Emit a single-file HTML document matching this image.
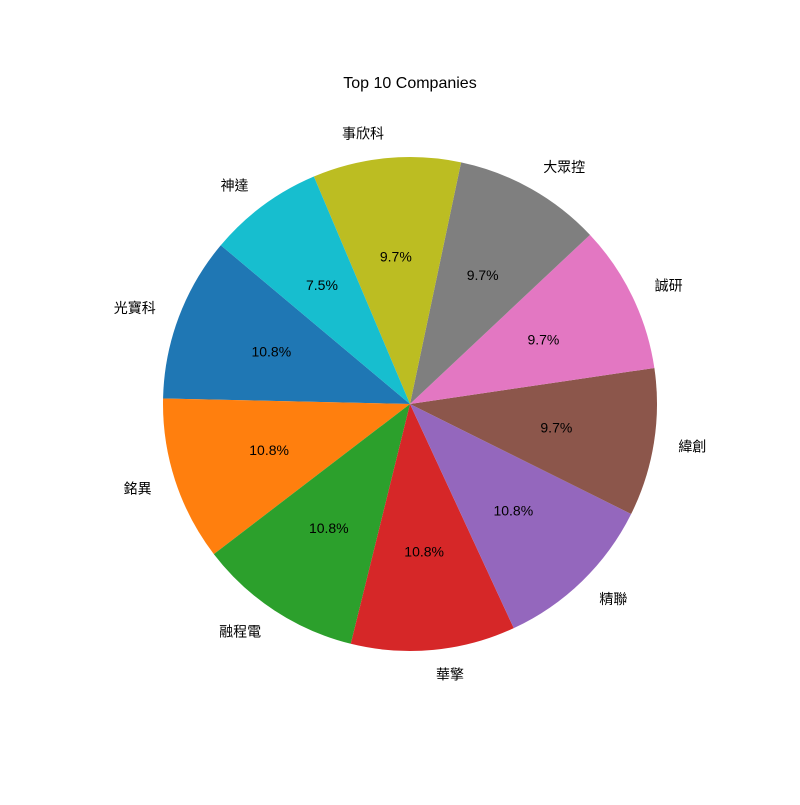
<!DOCTYPE html>
<html><head><meta charset="utf-8"><style>
html,body{margin:0;padding:0;background:#fff;}
svg text{font-family:"Liberation Sans","Noto Sans CJK TC",sans-serif;fill:#000;}
</style></head><body>
<svg id="chart" width="800" height="800" viewBox="0 0 800 800" xmlns="http://www.w3.org/2000/svg">
<rect width="800" height="800" fill="#fff"/>
<text x="410" y="88" text-anchor="middle" font-size="16">Top 10 Companies</text>
<g id="slices"></g>
</svg>
<script>
const categories = ["光寶科","銘異","融程電","華擎","精聯","緯創","誠研","大眾控","事欣科","神達"];
const values = [10,10,10,10,10,9,9,9,9,7];
const colors = ["#1f77b4","#ff7f0e","#2ca02c","#d62728","#9467bd","#8c564b","#e377c2","#7f7f7f","#bcbd22","#17becf"];
const startAngle = 140;
const cx = 410, cy = 404, r = 247;
const g = document.getElementById('slices');
const NS = "http://www.w3.org/2000/svg";
const total = values.reduce((a,b)=>a+b,0);
let a0 = startAngle;
function pt(deg, rr){const t=deg*Math.PI/180;return [cx+rr*Math.cos(t), cy-rr*Math.sin(t)];}
values.forEach((v,i)=>{
  const sweep = v/total*360;
  const a1 = a0+sweep;
  const p0 = pt(a0,r), p1 = pt(a1,r);
  const path = document.createElementNS(NS,'path');
  path.setAttribute('d',`M${cx},${cy} L${p0[0]},${p0[1]} A${r},${r} 0 ${sweep>180?1:0} 0 ${p1[0]},${p1[1]} Z`);
  path.setAttribute('fill',colors[i]);
  
  
  g.appendChild(path);
  const mid = (a0+a1)/2;
  const lp = pt(mid, r*1.1);
  const lt = document.createElementNS(NS,'text');
  lt.setAttribute('x',lp[0]);lt.setAttribute('y',lp[1]+5);
  lt.setAttribute('font-size','14');
  lt.setAttribute('text-anchor', lp[0]<cx ? 'end':'start');
  lt.textContent = categories[i];
  
  
  g.appendChild(lt);
  const pp = pt(mid, r*0.6);
  const pt2 = document.createElementNS(NS,'text');
  pt2.setAttribute('x',pp[0]);pt2.setAttribute('y',pp[1]+5);
  pt2.setAttribute('font-size','14');
  pt2.setAttribute('text-anchor','middle');
  pt2.textContent = (v/total*100).toFixed(1)+'%';
  
  
  g.appendChild(pt2);
  a0 = a1;
});
</script>
</body></html>
